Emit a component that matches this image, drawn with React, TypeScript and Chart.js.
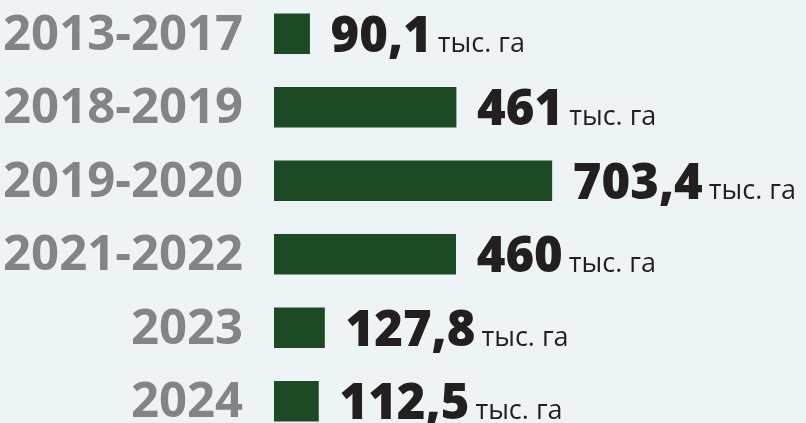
import React, { useEffect, useRef } from "react";
import { Chart, registerables } from "chart.js";

Chart.register(...registerables);

const categories = ["2013-2017", "2018-2019", "2019-2020", "2021-2022", "2023", "2024"];
const values = [90.1, 461, 703.4, 460, 127.8, 112.5];
const unitLabel = "тыс. га";

const BG = "#eef3f6";
const BAR = "#1c4a24";
const LABEL = "#838487";
const NUM = "#231f20";
const FONT = "'Open Sans', 'Noto Sans', sans-serif";

const valueLabels = {
  id: "valueLabels",
  afterDatasetsDraw(chart: any) {
    const ctx = chart.ctx;
    const meta = chart.getDatasetMeta(0);
    ctx.save();
    meta.data.forEach((bar: any, i: number) => {
      const txt = String(values[i]).replace(".", ",");
      const x = bar.x + 21;
      const y = bar.y + 18;
      ctx.textBaseline = "alphabetic";
      ctx.textAlign = "left";
      ctx.fillStyle = NUM;
      ctx.font = `800 49px ${FONT}`;
      ctx.fillText(txt, x, y);
      const w = ctx.measureText(txt).width;
      ctx.font = `400 27px ${FONT}`;
      ctx.fillText(unitLabel, x + w + 6, y);
    });
    ctx.restore();
  },
};

export default function App() {
  const ref = useRef<HTMLCanvasElement | null>(null);
  useEffect(() => {
    if (!ref.current) return;
    const chart = new Chart(ref.current, {
      type: "bar",
      data: {
        labels: categories,
        datasets: [
          {
            data: values,
            backgroundColor: BAR,
            barThickness: 40,
            borderWidth: 0,
          },
        ],
      },
      options: {
        indexAxis: "y",
        animation: false,
        responsive: false,
        maintainAspectRatio: false,
        layout: { padding: 0 },
        plugins: { legend: { display: false }, tooltip: { enabled: false } },
        scales: {
          x: { display: false, min: 0, max: 1347 },
          y: {
            grid: { display: false, drawTicks: false },
            border: { display: false },
            ticks: {
              color: LABEL,
              font: { family: FONT, size: 49, weight: "bold" },
              padding: 31,
              labelOffset: 2,
            },
            afterFit(scale: any) {
              scale.width = 274;
              scale.paddingTop = 0;
              scale.paddingBottom = 0;
            },
          },
        },
      },
      plugins: [valueLabels],
    });
    return () => chart.destroy();
  }, []);
  return (
    <div
      style={{
        position: "fixed",
        left: 0,
        top: 0,
        width: 806,
        height: 423,
        overflow: "hidden",
        background: BG,
      }}
    >
      <canvas
        ref={ref}
        width={806}
        height={441}
        style={{ position: "absolute", left: 0, top: -3, width: 806, height: 441 }}
      />
    </div>
  );
}
